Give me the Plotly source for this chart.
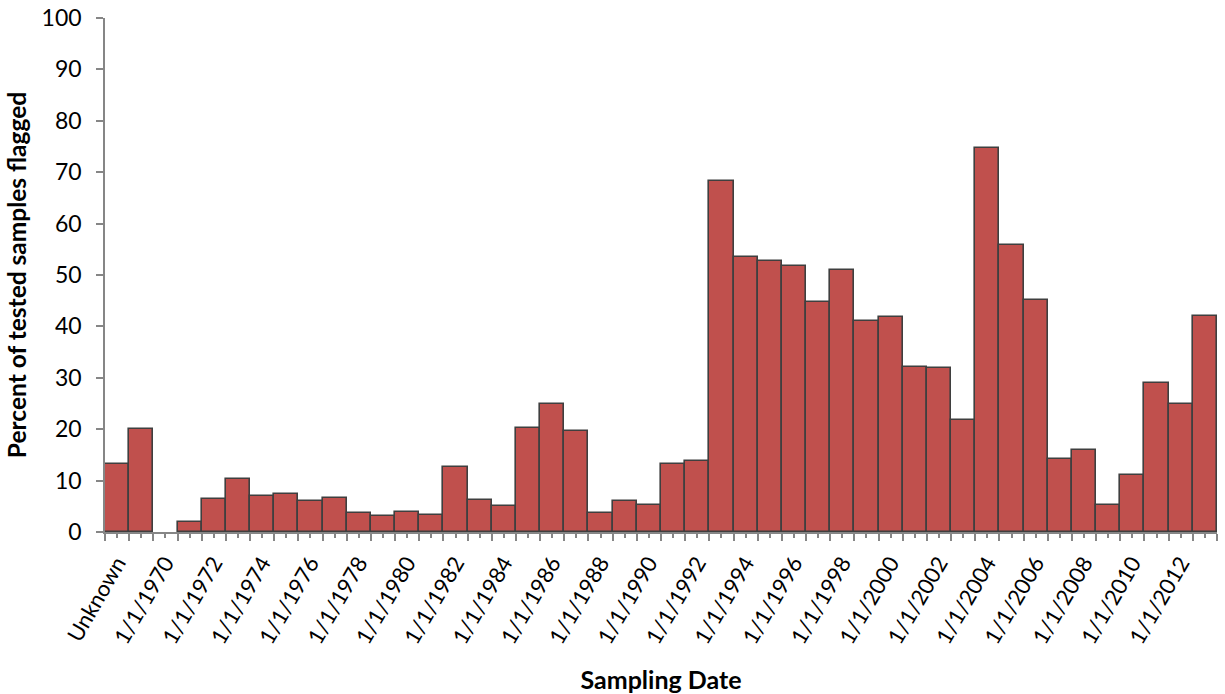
import plotly.graph_objects as go

categories = ["Unknown"] + [f"1/1/{yr}" for yr in range(1969, 2014)]
values = [13.3, 20.0, None, 2.0, 6.4, 10.3, 7.1, 7.4, 6.1, 6.6,
          3.7, 3.1, 3.8, 3.3, 12.6, 6.2, 5.1, 20.3, 25.0, 19.7,
          3.7, 6.0, 5.3, 13.3, 13.9, 68.3, 53.5, 52.8, 51.7, 44.7,
          51.0, 41.1, 41.8, 32.1, 31.9, 21.7, 74.7, 55.8, 45.1, 14.3,
          15.9, 5.3, 11.0, 29.0, 25.0, 42.0]
tick_labels = ["Unknown"] + [f"1/1/{yr}" for yr in range(1970, 2013, 2)]
y_ticks = list(range(0, 101, 10))

n = len(categories)
label_pos = [categories.index(t) for t in tick_labels]
FONT = "Lato"
AXC = "#868686"

fig = go.Figure()
fig.add_trace(go.Bar(
    x=list(range(n)), y=values, width=1,
    marker=dict(color="#C0504D", line=dict(color="#3F3F3F", width=1.6)),
    showlegend=False, hoverinfo="skip",
))
# carrier trace so the label axis is drawn
fig.add_trace(go.Scatter(
    x=label_pos, y=[None] * len(label_pos), xaxis="x2", mode="markers",
    showlegend=False, hoverinfo="skip",
))

fig.update_layout(
    width=1225, height=694,
    margin=dict(l=105, r=8, t=18, b=162),
    paper_bgcolor="white", plot_bgcolor="white",
    bargap=0,
    font=dict(family=FONT, color="#000000"),
    xaxis=dict(
        range=[-0.5, n - 0.5], tickmode="array",
        tickvals=[p - 0.5 for p in range(n + 1)],
        ticks="outside", ticklen=7, tickwidth=1.5, tickcolor=AXC,
        minor=dict(tickmode="array", tickvals=list(range(n)), ticks="outside",
                   ticklen=4, tickwidth=1.5, tickcolor=AXC),
        showticklabels=False, showgrid=False, zeroline=False,
        showline=True, linecolor=AXC, linewidth=1.5, automargin=False,
    ),
    xaxis2=dict(
        overlaying="x", anchor="y", side="bottom",
        range=[-0.5, n - 0.5],
        tickmode="array", tickvals=label_pos, ticktext=tick_labels,
        tickangle=-60, ticks="", ticklabelstandoff=13,
        tickfont=dict(size=22, family=FONT, color="#000"),
        showgrid=False, zeroline=False, showline=False, automargin=False,
        title=dict(text="<b>Sampling Date</b>", font=dict(size=25, family=FONT, color="#000"),
                   standoff=25),
    ),
    yaxis=dict(
        range=[0, 100], tickmode="array", tickvals=y_ticks,
        ticks="outside", ticklen=7, tickwidth=1.5, tickcolor=AXC,
        ticklabelstandoff=10, automargin=False,
        tickfont=dict(size=23, family=FONT, color="#000"),
        showgrid=False, zeroline=False, showline=True, linecolor=AXC, linewidth=1.5,
        title=dict(text="<b>Percent of tested samples flagged</b>",
                   font=dict(size=24.5, family=FONT, color="#000"), standoff=8),
    ),
)

fig.write_html("out.html")
